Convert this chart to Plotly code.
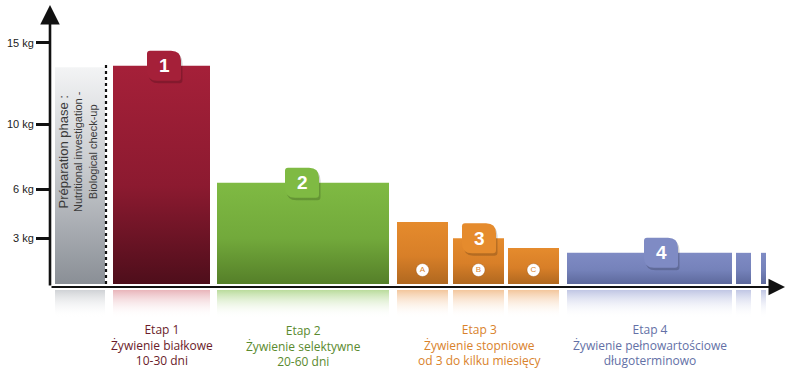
import plotly.graph_objects as go

# ---------------- data ----------------
stages = ["Etap 1", "Etap 2", "Etap 3", "Etap 4"]
stage_names = ["Żywienie białkowe", "Żywienie selektywne", "Żywienie stopniowe", "Żywienie pełnowartościowe"]
stage_durations = ["10-30 dni", "20-60 dni", "od 3 do kilku miesięcy", "długoterminowo"]
badge_labels = ["1", "2", "3", "4"]
bar_names = ["1", "2", "3A", "3B", "3C", "4", "4 (cont.)", "4 (cont.)"]
bar_values = [13.6, 6.4, 4.0, 3.0, 2.4, 2.1, 2.1, 2.1]
bar_stage = [0, 1, 2, 2, 2, 3, 3, 3]
sub_labels = ["A", "B", "C"]
sub_bars = [2, 3, 4]
prep_value = 13.5
prep_lines = ["Préparation phase :", "Nutritional investigation -", "Biological check-up"]
y_ticks = [3, 6, 10, 15]
y_tick_labels = ["3 kg", "6 kg", "10 kg", "15 kg"]

# ---------------- layout / style ----------------
K = 16.27                      # px per kg
W, H = 800, 370
ML, MR, MT, MB = 50, 10, 3, 3
Y0PX = 287                     # pixel row of the zero line
y_top = (Y0PX - MT) / K
y_bot = -(H - MB - Y0PX) / K
x_max = W - ML - MR

bar_x0 = [63, 167, 347, 403, 458, 517, 686, 711]
bar_x1 = [160, 339, 398, 454, 509, 682, 701, 716]
prep_x = (5, 55)
gap = 3 / K
refl_depth = 28 / K

stage_top = ["#a52039", "#7fba43", "#e58b2d", "#7f8bc4"]
stage_mid = ["#8c1a30", "#72a93b", "#d87f28", "#7582ba"]
stage_bot = ["#4e0e1b", "#557f29", "#b06820", "#5d699c"]
stage_refl = ["rgba(214,120,130,0.55)", "rgba(140,196,90,0.6)", "rgba(235,160,90,0.6)", "rgba(150,160,210,0.6)"]
text_col = ["#6a1b2a", "#5a8a2e", "#d9822b", "#6370a6"]
badge_bar = [0, 1, 3, 5]
badge_x = [114, 252, 429, 611]

fig = go.Figure()

def rect(x0, x1, y0, y1):
    return [x0, x1, x1, x0, x0], [y0, y0, y1, y1, y0]

# prep phase box
xs, ys = rect(prep_x[0], prep_x[1], gap, prep_value)
fig.add_trace(go.Scatter(x=xs, y=ys, mode="lines", line=dict(width=0), fill="toself",
                         fillgradient=dict(type="vertical", colorscale=[[0, "#8a8f96"], [0.5, "#c4c7cb"], [1, "#f3f4f5"]]),
                         hoverinfo="skip", showlegend=False))
xs, ys = rect(prep_x[0], prep_x[1], -gap - refl_depth, -gap)
fig.add_trace(go.Scatter(x=xs, y=ys, mode="lines", line=dict(width=0), fill="toself",
                         fillgradient=dict(type="vertical", colorscale=[[0, "rgba(255,255,255,0)"], [1, "rgba(160,165,172,0.5)"]]),
                         hoverinfo="skip", showlegend=False))

# bars + reflections
for i, v in enumerate(bar_values):
    s = bar_stage[i]
    xs, ys = rect(bar_x0[i], bar_x1[i], gap, v)
    fig.add_trace(go.Scatter(x=xs, y=ys, mode="lines", line=dict(width=0), fill="toself",
                             fillgradient=dict(type="vertical",
                                               colorscale=[[0, stage_bot[s]], [0.45, stage_mid[s]], [1, stage_top[s]]]),
                             name=bar_names[i], hoverinfo="name", showlegend=False))
    xs, ys = rect(bar_x0[i], bar_x1[i], -gap - refl_depth, -gap)
    fig.add_trace(go.Scatter(x=xs, y=ys, mode="lines", line=dict(width=0), fill="toself",
                             fillgradient=dict(type="vertical",
                                               colorscale=[[0, "rgba(255,255,255,0)"], [1, stage_refl[s]]]),
                             hoverinfo="skip", showlegend=False))

# dotted separator
fig.add_trace(go.Scatter(x=[prep_x[1] + 1, prep_x[1] + 1], y=[gap, prep_value + 0.3], mode="lines",
                         line=dict(color="#111", width=2.2, dash="dot"), hoverinfo="skip", showlegend=False))

# A, B, C circles
fig.add_trace(go.Scatter(x=[(bar_x0[b] + bar_x1[b]) / 2 for b in sub_bars], y=[17 / K] * 3,
                         mode="markers+text", text=sub_labels, textposition="middle center",
                         textfont=dict(family="Liberation Sans", size=8, color="#d9822b"),
                         marker=dict(size=13, color="white", line=dict(color="rgba(150,80,20,0.35)", width=1)),
                         hoverinfo="skip", showlegend=False, cliponaxis=False))

# axes lines with arrows
fig.add_annotation(x=0, y=(Y0PX - 5) / K, ax=0, ay=0, xref="x", yref="y", axref="x", ayref="y",
                   showarrow=True, arrowhead=2, arrowsize=1.5, arrowwidth=2.6, arrowcolor="#111", text="")
fig.add_annotation(x=735, y=0, ax=0, ay=0, xref="x", yref="y", axref="x", ayref="y",
                   showarrow=True, arrowhead=2, arrowsize=1.5, arrowwidth=2.2, arrowcolor="#111", text="")

# origin dot
fig.add_trace(go.Scatter(x=[-2], y=[0.12], mode="markers",
                         marker=dict(size=15, color="#5b5c60", line=dict(color="white", width=4)),
                         hoverinfo="skip", showlegend=False, cliponaxis=False))

# badges
def badge_path(cx, cy, dx=0.0, dy=0.0):
    w, h = 17, 15 / K
    rb, rs = 10, 3
    rbY, rsY = rb / K, rs / K
    cx, cy = cx + dx, cy + dy
    L, R, T, B = cx - w, cx + w, cy + h, cy - h
    return (f"M {L+rs},{T} L {R-rb},{T} Q {R},{T} {R},{T-rbY} L {R},{B+rsY} Q {R},{B} {R-rs},{B} "
            f"L {L+rb},{B} Q {L},{B} {L},{B+rbY} L {L},{T-rsY} Q {L},{T} {L+rs},{T} Z")

for s in range(4):
    cy = bar_values[badge_bar[s]]
    cx = badge_x[s]
    fig.add_shape(type="path", path=badge_path(cx, cy, 1.5, -2.5 / K), xref="x", yref="y",
                  fillcolor="rgba(0,0,0,0.18)", line=dict(width=0), layer="above")
    fig.add_shape(type="path", path=badge_path(cx, cy), xref="x", yref="y",
                  fillcolor=stage_top[s], line=dict(width=0), layer="above")
    fig.add_annotation(x=cx, y=cy, xref="x", yref="y", text=f"<b>{badge_labels[s]}</b>", showarrow=False,
                       font=dict(family="Liberation Sans", size=19, color="white"))

# prep text
fig.add_annotation(x=27, y=(Y0PX - 152) / K, xref="x", yref="y", textangle=-90, showarrow=False,
                   text=(f"<span style='font-size:13px'>{prep_lines[0]}</span><br>{prep_lines[1]}<br>{prep_lines[2]}"),
                   font=dict(family="Liberation Sans", size=11, color="#3a3a3a"), align="center")

# stage labels
stage_cx = [112, 253, 430, 600]
stage_py = [345, 346, 345, 345]
for s in range(4):
    fig.add_annotation(x=stage_cx[s], y=(Y0PX - stage_py[s]) / K, xref="x", yref="y",
                       text=f"{stages[s]}<br>{stage_names[s]}<br>{stage_durations[s]}",
                       showarrow=False, align="center", yanchor="middle",
                       font=dict(family="Open Sans", size=12, color=text_col[s]))

fig.update_layout(
    width=W, height=H, margin=dict(l=ML, r=MR, t=MT, b=MB, autoexpand=False),
    paper_bgcolor="white", plot_bgcolor="white",
    xaxis=dict(range=[0, x_max], visible=False, fixedrange=True, automargin=False),
    yaxis=dict(range=[y_bot, y_top], tickvals=y_ticks, ticktext=y_tick_labels,
               ticks="outside", ticklen=13, tickwidth=2.5, tickcolor="#111",
               showgrid=False, zeroline=False, showline=False, automargin=False,
               tickfont=dict(family="Liberation Sans", size=11, color="#222"), fixedrange=True),
)

fig.write_html("out.html", config={"displayModeBar": False},
               post_script="document.body.style.margin='0';document.body.style.overflow='hidden';")
